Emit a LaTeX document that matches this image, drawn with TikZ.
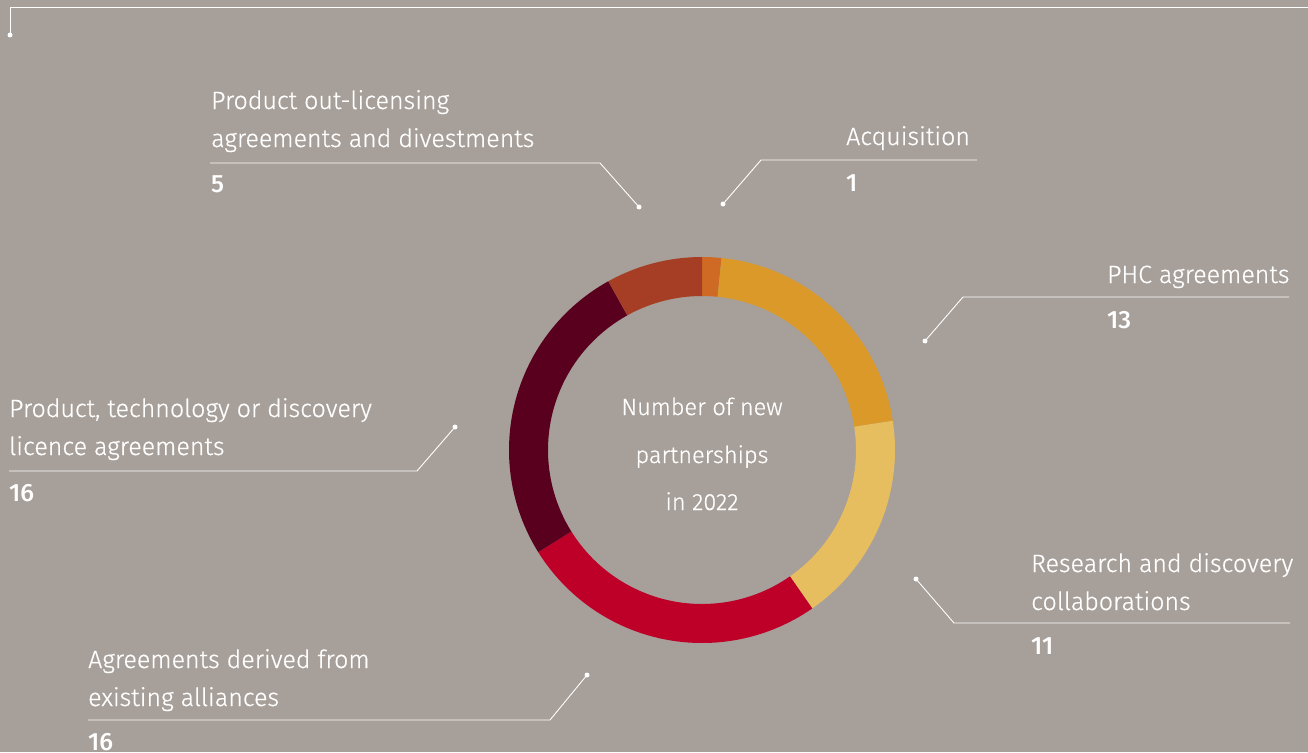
\documentclass[tikz,border=0pt]{standalone}
\usepackage{fontspec}
\setmainfont{Fira Sans}[UprightFont={* Light}, UprightFeatures={FakeBold=0.6}, BoldFont={* Medium}]
\definecolor{bgc}{RGB}{167,159,153}
\definecolor{rust}{RGB}{166,62,38}
\definecolor{orng}{RGB}{207,106,36}
\definecolor{gold}{RGB}{218,153,40}
\definecolor{lyel}{RGB}{230,190,96}
\definecolor{rred}{RGB}{190,0,40}
\definecolor{maro}{RGB}{88,0,30}
\begin{document}
\begin{tikzpicture}[x=1pt,y=-1pt,
  lbl/.style={anchor=base west, inner sep=0pt, text=white, font=\fontsize{25}{30}\selectfont},
  num/.style={anchor=base west, inner sep=0pt, text=white, font=\bfseries\fontsize{25}{30}\selectfont},
  ctr/.style={anchor=base, inner sep=0pt, text=white, font=\fontsize{23.5}{30}\selectfont},
  lead/.style={white, line width=0.9pt},
  dotm/.style={circle, fill=white, inner sep=0pt, minimum size=5pt}]
\fill[bgc] (0,0) rectangle (1308,752);
\useasboundingbox (0,0) rectangle (1308,752);
% donut
\begin{scope}[shift={(702,450)}]
  \fill[orng] (90:193pt) arc[start angle=90,end angle=84.194,radius=193pt] -- (84.194:154pt) arc[start angle=84.194,end angle=90,radius=154pt] -- cycle;
  \fill[gold] (84.194:193pt) arc[start angle=84.194,end angle=8.71,radius=193pt] -- (8.71:154pt) arc[start angle=8.71,end angle=84.194,radius=154pt] -- cycle;
  \fill[lyel] (8.71:193pt) arc[start angle=8.71,end angle=-55.16,radius=193pt] -- (-55.16:154pt) arc[start angle=-55.16,end angle=8.71,radius=154pt] -- cycle;
  \fill[rred] (-55.16:193pt) arc[start angle=-55.16,end angle=-148.06,radius=193pt] -- (-148.06:154pt) arc[start angle=-148.06,end angle=-55.16,radius=154pt] -- cycle;
  \fill[maro] (-148.06:193pt) arc[start angle=-148.06,end angle=-240.97,radius=193pt] -- (-240.97:154pt) arc[start angle=-240.97,end angle=-148.06,radius=154pt] -- cycle;
  \fill[rust] (-240.97:193pt) arc[start angle=-240.97,end angle=-270,radius=193pt] -- (-270:154pt) arc[start angle=-270,end angle=-240.97,radius=154pt] -- cycle;
\end{scope}
% centre text
\node[ctr] (c1) at (702,415) {Number of new};
\node[ctr] (c2) at (702,463) {partnerships};
\node[ctr] (c3) at (702,510) {in 2022};
% frame
\coordinate (f1) at (1308,7);
\coordinate (f2) at (10,7);
\node[dotm] (fd) at (10,35) {};
\draw[lead] (f1) -- (f2) -- (fd.center);
% out-licensing
\node[lbl] (o1) at (211,109) {Product out-licensing};
\node[lbl] (o2) at (211,147) {agreements and divestments};
\node[num] (o3) at (211,192) {5};
\coordinate (os) at (210,163);
\coordinate (oe) at (600,163);
\node[dotm] (od) at (639,207) {};
\draw[lead] (os) -- (oe) -- (od.center);
% acquisition
\node[lbl] (a1) at (846,145) {Acquisition};
\node[num] (a2) at (846,191) {1};
\coordinate (as) at (977,160);
\coordinate (ae) at (761,160);
\node[dotm] (ad) at (723,204) {};
\draw[lead] (as) -- (ae) -- (ad.center);
% PHC
\node[lbl] (p1) at (1107,283) {PHC agreements};
\node[num] (p2) at (1107,328) {13};
\coordinate (ps) at (1289,297);
\coordinate (pe) at (963,297);
\node[dotm] (pd) at (925,341) {};
\draw[lead] (ps) -- (pe) -- (pd.center);
% product technology
\node[lbl] (t1) at (9,417) {Product, technology or discovery};
\node[lbl] (t2) at (9,455) {licence agreements};
\node[num] (t3) at (9,501) {16};
\coordinate (ts) at (9,471);
\coordinate (te) at (417,471);
\node[dotm] (td) at (455,427) {};
\draw[lead] (ts) -- (te) -- (td.center);
% research
\node[lbl] (r1) at (1031,572) {Research and discovery};
\node[lbl] (r2) at (1031,610) {collaborations};
\node[num] (r3) at (1031,654) {11};
\coordinate (rs) at (1290,623);
\coordinate (re) at (954,623);
\node[dotm] (rd) at (916,579) {};
\draw[lead] (rs) -- (re) -- (rd.center);
% derived
\node[lbl] (g1) at (88,668) {Agreements derived from};
\node[lbl] (g2) at (88,706) {existing alliances};
\node[num] (g3) at (88,750) {16};
\coordinate (gs) at (88,720);
\coordinate (ge) at (550,720);
\node[dotm] (gd) at (587,675) {};
\draw[lead] (gs) -- (ge) -- (gd.center);
\end{tikzpicture}
\end{document}
